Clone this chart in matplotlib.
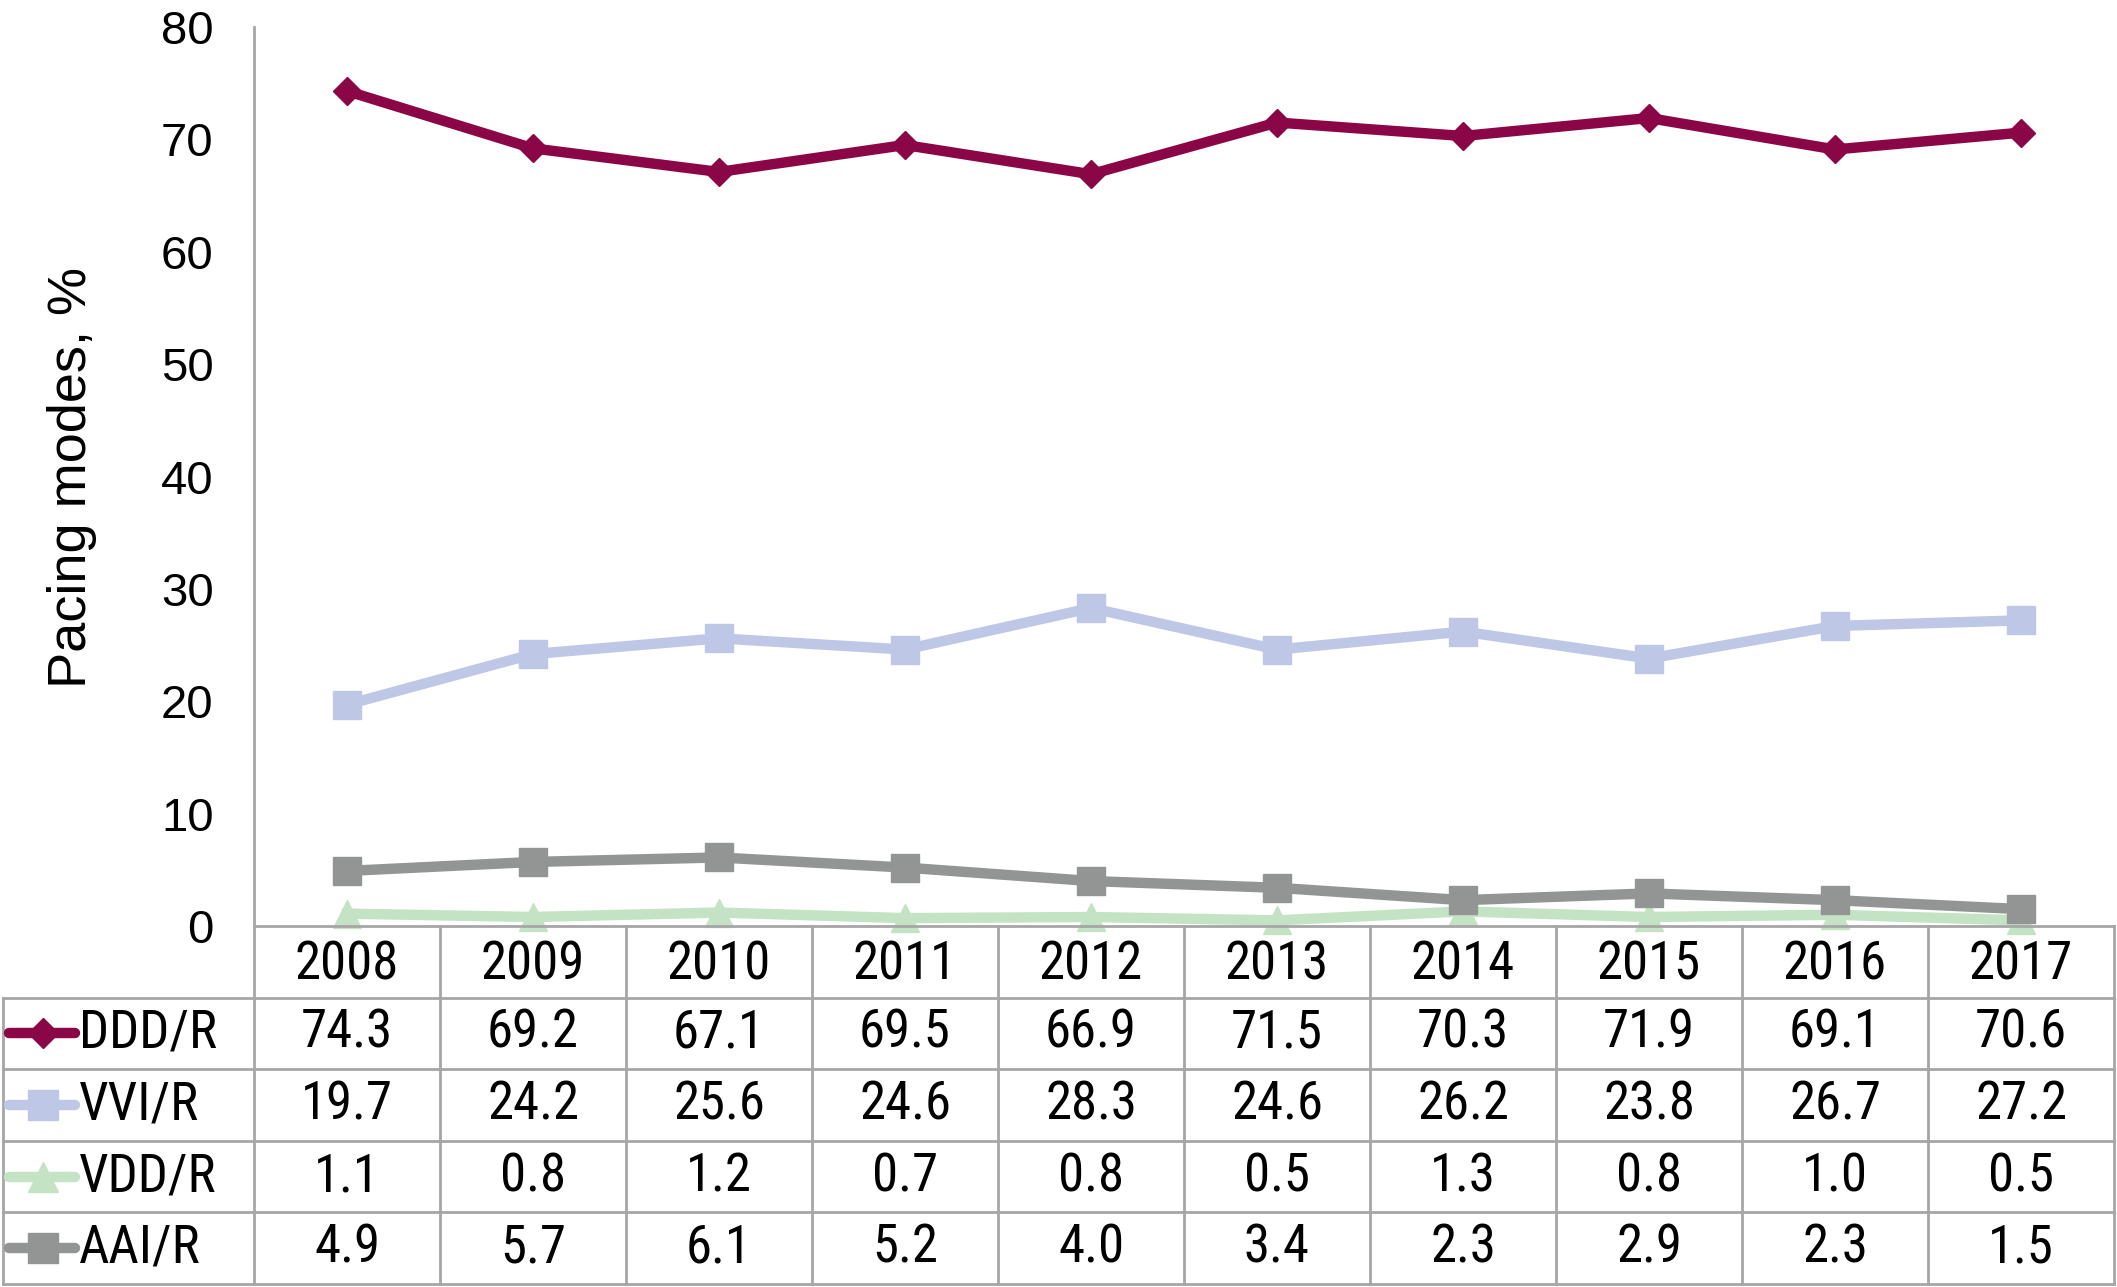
import matplotlib
matplotlib.use("Agg")
import numpy as np
from matplotlib import pyplot as plt

years = ["2008", "2009", "2010", "2011", "2012", "2013", "2014", "2015", "2016", "2017"]
series_names = ["DDD/R", "VVI/R", "VDD/R", "AAI/R"]
ddd = [74.3, 69.2, 67.1, 69.5, 66.9, 71.5, 70.3, 71.9, 69.1, 70.6]
vvi = [19.7, 24.2, 25.6, 24.6, 28.3, 24.6, 26.2, 23.8, 26.7, 27.2]
vdd = [1.1, 0.8, 1.2, 0.7, 0.8, 0.5, 1.3, 0.8, 1.0, 0.5]
aai = [4.9, 5.7, 6.1, 5.2, 4.0, 3.4, 2.3, 2.9, 2.3, 1.5]

colors = ["#8B0646", "#BFC7E6", "#C4E3C4", "#939595"]
markers = ["D", "s", "^", "s"]
msizes = [14, 20, 20, 20]

NARROW = ["Roboto Condensed", "Liberation Sans"]
GRID = "#A6A6A6"

W, H = 2117, 1287
fig = plt.figure(figsize=(W / 100, H / 100), dpi=100)

# plot area in pixels
left, right, top, base = 254, 2114, 27, 926
tab_bottom = 1284
ax = fig.add_axes([left / W, 1 - base / H, (right - left) / W, (base - top) / H])
x = np.arange(len(years))
for vals, c, m, ms in zip([ddd, vvi, vdd, aai], colors, markers, msizes):
    ax.plot(x, vals, color=c, lw=7.5, marker=m, ms=ms, clip_on=False, zorder=3)

ax.set_xlim(-0.5, len(years) - 0.5)
ax.set_ylim(0, 80)
ax.set_yticks(np.arange(0, 81, 10))
ax.tick_params(axis="y", length=0, pad=29, labelsize=34)
for t in ax.get_yticklabels():
    t.set_fontfamily("Liberation Sans")
ax.set_xticks([])
for s in ["top", "right", "bottom"]:
    ax.spines[s].set_visible(False)
ax.spines["left"].set_color(GRID)
ax.spines["left"].set_linewidth(2)

fig.text(72 / W, 1 - 477 / H, "Pacing modes, %", rotation=90, ha="center", va="center",
         fontsize=39, family="Liberation Sans")

# data table below the chart
col_w = (right - left) / len(years)
lab_w = (left - 3) / col_w
tab = fig.add_axes([3 / W, 1 - tab_bottom / H, (right - 3) / W, (tab_bottom - base) / H])
x0 = -0.5 - lab_w
tab.set_xlim(x0, len(years) - 0.5)
tab.set_ylim(5, 0)
tab.axis("off")

kw = dict(color=GRID, lw=2, clip_on=False)
for i in range(len(years) + 1):
    tab.plot([i - 0.5, i - 0.5], [0, 5], **kw)
tab.plot([x0, x0], [1, 5], **kw)
tab.plot([-0.5, len(years) - 0.5], [0, 0], **kw)
for r in range(1, 6):
    tab.plot([x0, len(years) - 0.5], [r, r], **kw)

FS = 38
for i, yr in enumerate(years):
    tab.text(i, 0.55, yr, ha="center", va="center", fontsize=FS, family=NARROW)

px = 1 / col_w
for r, (name, vals, c, m, ms) in enumerate(zip(series_names, [ddd, vvi, vdd, aai], colors, markers, msizes)):
    yy = r + 1.5
    tab.plot([x0 + 6 * px, x0 + 72 * px], [yy, yy], color=c, lw=7.5, solid_capstyle="round")
    tab.plot([x0 + 40 * px], [yy], color=c, marker=m, ms=ms + 1, lw=0)
    tab.text(x0 + 76 * px, yy, name, ha="left", va="center", fontsize=FS, family=NARROW)
    for i, v in enumerate(vals):
        tab.text(i, yy, f"{v:.1f}", ha="center", va="center", fontsize=FS, family=NARROW)

fig.savefig("out.png", dpi=100)
